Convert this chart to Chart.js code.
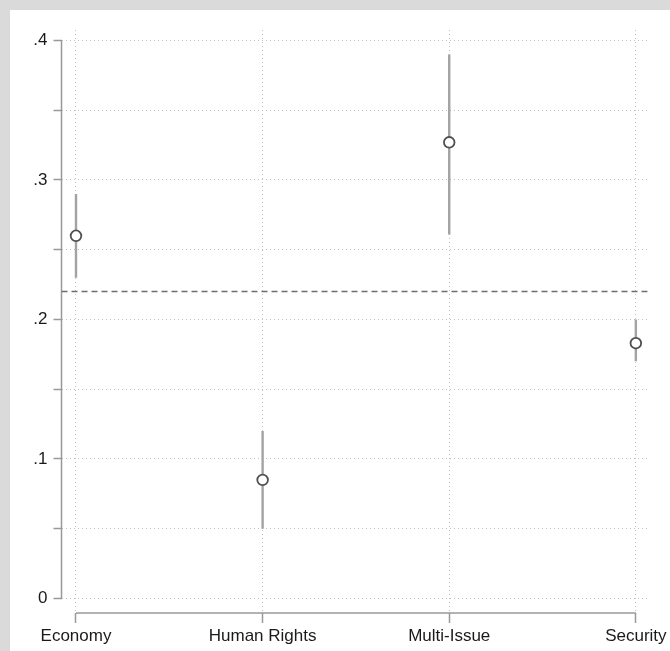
<!DOCTYPE html>
<html>
<head>
<meta charset="utf-8">
<script src="https://cdn.jsdelivr.net/npm/chart.js@4.4.0/dist/chart.umd.min.js"></script>
<style>
  html, body { margin: 0; padding: 0; background: #dadada; }
  #wrap { position: absolute; left: 10px; top: 10px; width: 660px; height: 641px; background: #ffffff; }
  canvas { display: block; }
</style>
</head>
<body>
<div id="wrap"><canvas id="c"></canvas></div>
<script>
const categories = ['Economy', 'Human Rights', 'Multi-Issue', 'Security'];
const estimates  = [0.260, 0.085, 0.327, 0.183];
const ciLower    = [0.230, 0.050, 0.261, 0.170];
const ciUpper    = [0.290, 0.120, 0.390, 0.200];
const refLine    = 0.22;
const yTickValues = [0, 0.05, 0.1, 0.15, 0.2, 0.25, 0.3, 0.35, 0.4];
const yTickLabels = ['0', '', '.1', '', '.2', '', '.3', '', '.4'];

const xMin = -0.0777, xMax = 3.0643;
const yMin = -0.0104, yMax = 0.4075;

Chart.defaults.font.family = "'Liberation Sans', Arial, Helvetica, sans-serif";
Chart.defaults.color = '#222';

const errorSets = categories.map((c, i) => ({
  type: 'line',
  label: c + ' CI',
  data: [{x: i, y: ciLower[i]}, {x: i, y: ciUpper[i]}],
  borderColor: '#a3a3a3',
  borderWidth: 2.4,
  pointRadius: 0,
  fill: false,
  order: 3
}));

const axisLines = {
  id: 'axisLines',
  beforeDatasetsDraw(chart) {
    const {ctx, chartArea, scales} = chart;
    const xs = scales.x, ys = scales.y;
    ctx.save();
    ctx.strokeStyle = '#999';
    ctx.lineWidth = 1.5;
    ctx.setLineDash([]);
    ctx.beginPath();
    ctx.moveTo(chartArea.left, ys.getPixelForValue(yTickValues[0]));
    ctx.lineTo(chartArea.left, ys.getPixelForValue(yTickValues[yTickValues.length - 1]));
    ctx.moveTo(xs.getPixelForValue(0), chartArea.bottom);
    ctx.lineTo(xs.getPixelForValue(categories.length - 1), chartArea.bottom);
    ctx.stroke();
    ctx.restore();
  }
};

new Chart(document.getElementById('c'), {
  type: 'scatter',
  data: {
    datasets: [
      {
        type: 'scatter',
        label: 'Estimate',
        data: estimates.map((v, i) => ({x: i, y: v})),
        pointStyle: 'circle',
        pointRadius: 5.3,
        pointBorderWidth: 1.8,
        pointBorderColor: '#505050',
        pointBackgroundColor: '#ffffff',
        order: 0
      },
      {
        type: 'line',
        label: 'Reference',
        data: [{x: xMin, y: refLine}, {x: xMax, y: refLine}],
        borderColor: '#6e6e6e',
        borderWidth: 1.5,
        borderDash: [6, 4],
        pointRadius: 0,
        fill: false,
        order: 1
      },
      ...errorSets
    ]
  },
  options: {
    responsive: true,
    maintainAspectRatio: false,
    animation: false,
    layout: { padding: { left: 0, top: 20, right: 22, bottom: 0 } },
    plugins: { legend: { display: false }, tooltip: { enabled: false } },
    scales: {
      x: {
        type: 'linear',
        min: xMin,
        max: xMax,
        offset: false,
        afterBuildTicks(scale) { scale.ticks = categories.map((c, i) => ({value: i})); },
        afterFit(scale) { scale.height = 38; },
        ticks: {
          autoSkip: false,
          maxRotation: 0,
          padding: 3,
          font: { size: 17 },
          color: '#1a1a1a',
          callback: (v, idx) => categories[idx]
        },
        grid: {
          color: '#c0c0c0',
          lineWidth: 1,
          drawTicks: true,
          tickLength: 10,
          tickColor: '#999',
          tickWidth: 1.5
        },
        border: { display: false, dash: [1, 3] }
      },
      y: {
        type: 'linear',
        min: yMin,
        max: yMax,
        afterBuildTicks(scale) { scale.ticks = yTickValues.map(v => ({value: v})); },
        afterFit(scale) { scale.width = 51.5; },
        ticks: {
          autoSkip: false,
          padding: 6,
          font: { size: 17 },
          color: '#1a1a1a',
          callback: (v, idx) => yTickLabels[idx]
        },
        grid: {
          color: '#c0c0c0',
          lineWidth: 1,
          drawTicks: true,
          tickLength: 8,
          tickColor: '#999',
          tickWidth: 1.5
        },
        border: { display: false, dash: [1, 3] }
      }
    }
  },
  plugins: [axisLines]
});
</script>
</body>
</html>
